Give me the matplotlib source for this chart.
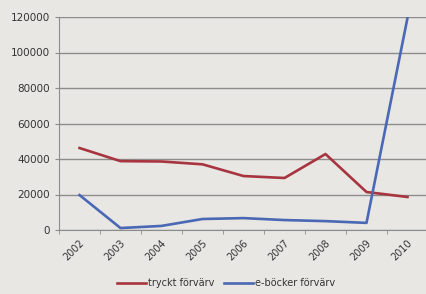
import numpy as np
import matplotlib.pyplot as plt

# Values
years = ['2002', '2003', '2004', '2005', '2006', '2007', '2008', '2009', '2010']
tryckt = [46200, 38800, 38600, 37000, 30400, 29300, 42800, 21400, 18600]
ebocker = [19700, 1100, 2300, 6200, 6700, 5600, 5000, 4000, 119500]

bg = '#e8e7e4'
fig = plt.figure(figsize=(4.27, 2.94), dpi=100, facecolor=bg)
ax = fig.add_axes([59 / 427, 1 - 230 / 294, 369 / 427, 213 / 294], facecolor=bg)

x = np.arange(len(years))
ax.plot(x, tryckt, color='#a83440', lw=1.9, label='tryckt förvärv')
ax.plot(x, ebocker, color='#4a68b4', lw=1.9, label='e-böcker förvärv')

ax.set_xlim(-0.5, len(years) - 0.5)
ax.set_ylim(0, 120000)
ax.set_yticks(range(0, 120001, 20000))
ax.grid(axis='y', color='#8c8c8c', lw=1)
ax.set_axisbelow(True)

ax.set_xticks(x)
ax.set_xticklabels(years, rotation=45, ha='right', rotation_mode='anchor')
ax.set_xticks(np.arange(-0.5, len(years)), minor=True)
ax.tick_params(axis='x', which='major', length=0, pad=6, labelsize=7, labelcolor='#333333')
ax.tick_params(axis='x', which='minor', length=3, color='#8c8c8c')
ax.tick_params(axis='y', length=3, color='#8c8c8c', labelsize=7.5, labelcolor='#333333')

for s in ['top', 'right']:
    ax.spines[s].set_visible(False)
for s in ['left', 'bottom']:
    ax.spines[s].set_color('#8c8c8c')

fig.legend(loc='center', bbox_to_anchor=(226 / 427, 1 - 283 / 294), ncol=2, frameon=False,
           fontsize=7, handlelength=3, columnspacing=1.0, handletextpad=0.2,
           labelcolor='#333333')

fig.savefig('out.png', dpi=100, facecolor=bg)
